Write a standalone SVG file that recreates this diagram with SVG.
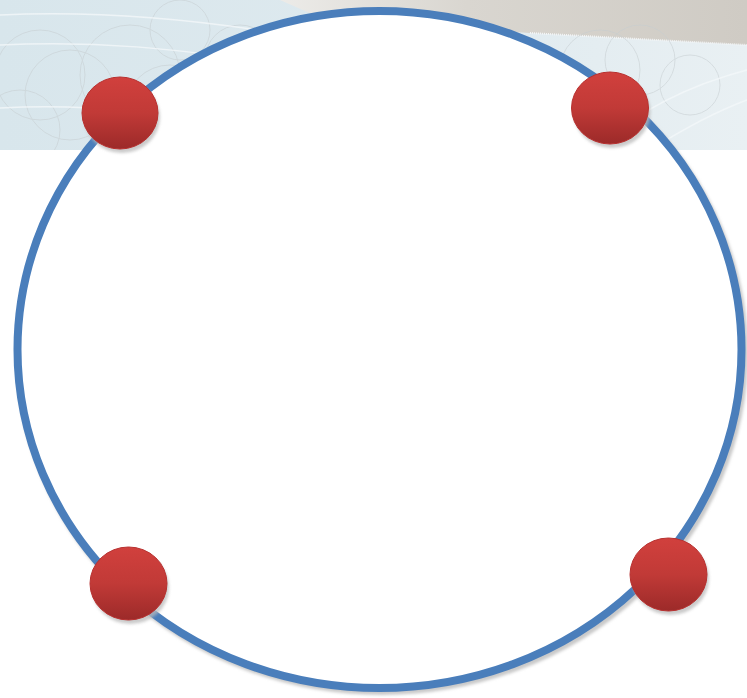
<svg xmlns="http://www.w3.org/2000/svg" width="747" height="698" viewBox="0 0 747 698">
  <defs>
    <linearGradient id="band" x1="0" y1="0" x2="1" y2="0">
      <stop offset="0" stop-color="#d8e6ec"/>
      <stop offset="0.6" stop-color="#dfeaef"/>
      <stop offset="1" stop-color="#e9f0f3"/>
    </linearGradient>
    <linearGradient id="grey" x1="0" y1="0" x2="1" y2="0">
      <stop offset="0" stop-color="#ecebe8"/>
      <stop offset="0.4" stop-color="#d9d6d0"/>
      <stop offset="1" stop-color="#cfcbc4"/>
    </linearGradient>
    <linearGradient id="ball" x1="0" y1="0" x2="0" y2="1">
      <stop offset="0" stop-color="#d1403d"/>
      <stop offset="0.5" stop-color="#c13a37"/>
      <stop offset="1" stop-color="#9c2a29"/>
    </linearGradient>
    <clipPath id="bandclip">
      <rect x="0" y="0" width="747" height="150"/>
    </clipPath>
    <filter id="blur" x="-20%" y="-20%" width="140%" height="140%">
      <feGaussianBlur stdDeviation="1.5"/>
    </filter>
    <style>
      .pat { fill: none; stroke: #c6cdd0; stroke-width: 1; opacity: 0.55; }
      .streak { fill: none; stroke: #f4f8fa; stroke-width: 1.5; opacity: 0.8; }
      .ballshadow { fill: #b9b9b9; opacity: 0.75; filter: url(#blur); }
      .ballbody { fill: url(#ball); stroke: #b8302f; stroke-width: 1; }
    </style>
  </defs>

  <rect x="0" y="0" width="747" height="698" fill="#ffffff"/>

  <g id="background" clip-path="url(#bandclip)">
    <rect x="0" y="0" width="747" height="150" fill="url(#band)"/>
    <path d="M280,0 L747,0 L747,45 L530,33 C470,30 400,25 330,22 Z" fill="url(#grey)"/>
    <path d="M530,33 L747,45" stroke="#f3f5f6" stroke-width="2" stroke-dasharray="1 1" fill="none"/>
    <g class="pat">
      <circle cx="40" cy="75" r="45"/>
      <circle cx="70" cy="95" r="45"/>
      <circle cx="130" cy="75" r="50"/>
      <circle cx="170" cy="110" r="45"/>
      <circle cx="20" cy="130" r="40"/>
      <circle cx="240" cy="60" r="35"/>
      <circle cx="180" cy="30" r="30"/>
      <circle cx="600" cy="70" r="40"/>
      <circle cx="640" cy="60" r="35"/>
      <circle cx="690" cy="85" r="30"/>
    </g>
    <g class="streak">
      <path d="M0,15 C100,10 200,20 290,35"/>
      <path d="M0,45 C100,40 180,50 250,60"/>
      <path d="M0,108 C80,104 150,110 220,125"/>
      <path d="M600,145 C640,110 690,85 747,70"/>
      <path d="M650,150 C690,125 720,110 747,100"/>
    </g>
  </g>

  <g id="ring">
    <ellipse cx="382" cy="353" rx="362" ry="338" fill="none" stroke="#c9c9c9" stroke-width="8" filter="url(#blur)"/>
    <ellipse cx="379.5" cy="349.5" rx="362" ry="338.5" fill="#ffffff" stroke="#4a7ebb" stroke-width="8"/>
  </g>

  <g id="connectors"></g>

  <g id="node-top-left">
    <ellipse class="ballshadow" cx="122" cy="117" rx="38" ry="36"/>
    <ellipse class="ballbody" cx="120" cy="113" rx="38" ry="36"/>
  </g>
  <g id="node-top-right">
    <ellipse class="ballshadow" cx="612" cy="112" rx="38.5" ry="36"/>
    <ellipse class="ballbody" cx="610" cy="108" rx="38.5" ry="36"/>
  </g>
  <g id="node-bottom-left">
    <ellipse class="ballshadow" cx="130.5" cy="587.5" rx="38.5" ry="36.5"/>
    <ellipse class="ballbody" cx="128.5" cy="583.5" rx="38.5" ry="36.5"/>
  </g>
  <g id="node-bottom-right">
    <ellipse class="ballshadow" cx="670.5" cy="578.5" rx="38.5" ry="36.5"/>
    <ellipse class="ballbody" cx="668.5" cy="574.5" rx="38.5" ry="36.5"/>
  </g>
</svg>
